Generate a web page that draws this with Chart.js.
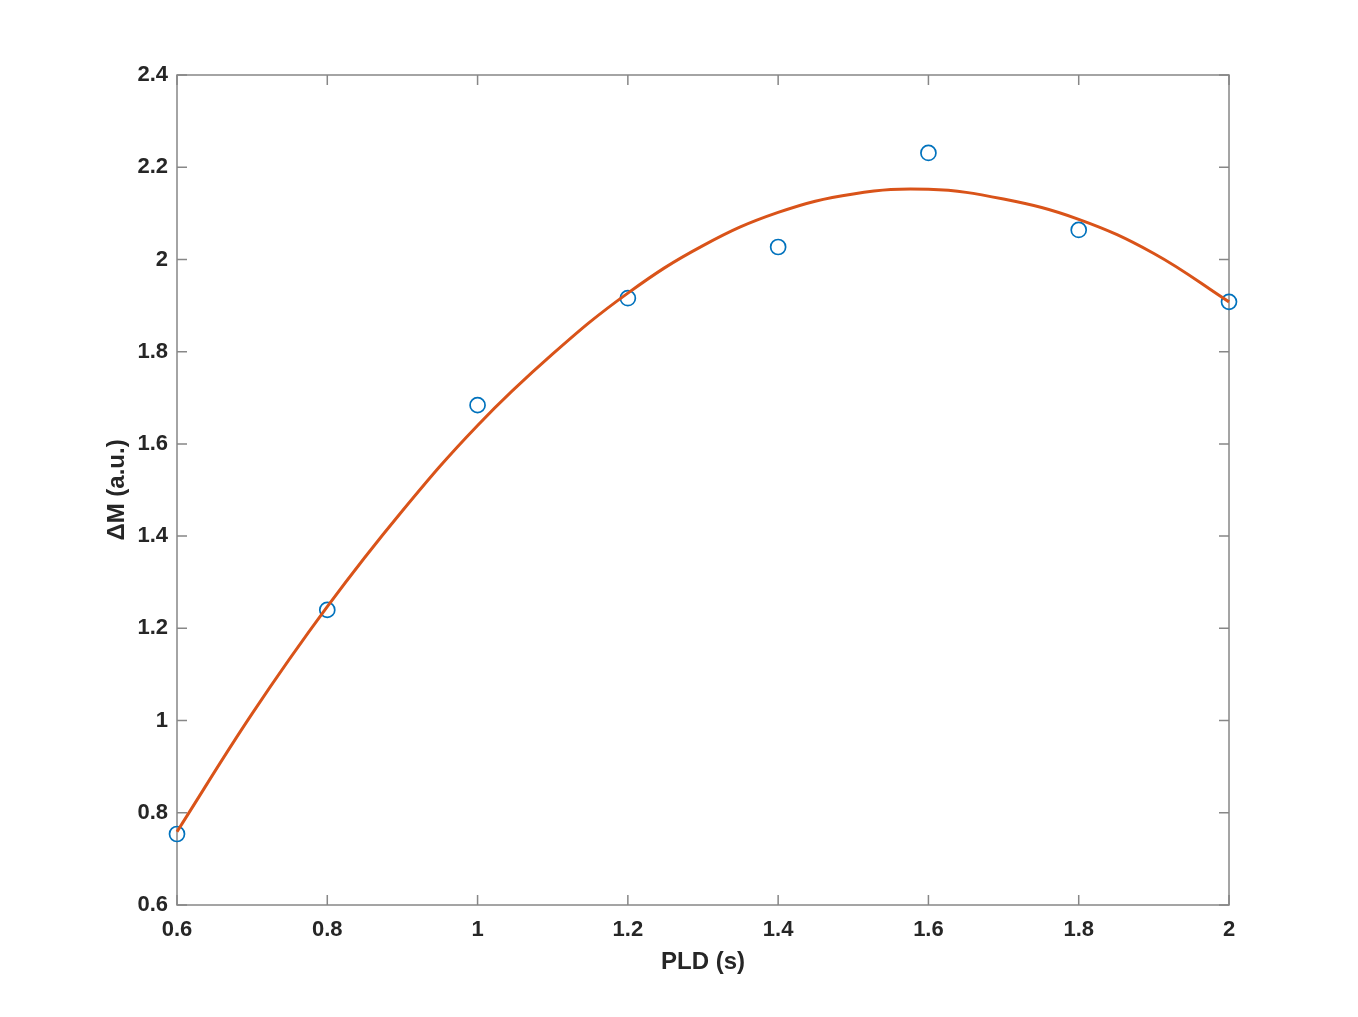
<!DOCTYPE html>
<html>
<head>
<meta charset="utf-8">
<title>PLD fit</title>
<script src="https://cdn.jsdelivr.net/npm/chart.js@4/dist/chart.umd.min.js"></script>
<style>
    html, body { margin: 0; padding: 0; background: #fff; }
    #wrap { width: 1358px; height: 1017px; }
</style>
</head>
<body>
<div id="wrap"><canvas id="fitChart"></canvas></div>
<script>
// measured points (PLD in s, deltaM in a.u.)
const pld = [0.6, 0.8, 1.0, 1.2, 1.4, 1.6, 1.8, 2.0];
const deltaM = [0.754, 1.240, 1.684, 1.916, 2.027, 2.231, 2.064, 1.908];

// fitted curve
const fitPld = [0.6, 0.7, 0.8, 0.9, 1.0, 1.1, 1.2, 1.3, 1.4, 1.5, 1.6, 1.7, 1.8, 1.9, 2.0];
const fitM = [0.759, 1.015, 1.247, 1.455, 1.640, 1.795, 1.927, 2.030, 2.102, 2.142, 2.152, 2.131, 2.087, 2.013, 1.908];

const xTicks = [0.6, 0.8, 1, 1.2, 1.4, 1.6, 1.8, 2];
const yTicks = [0.6, 0.8, 1, 1.2, 1.4, 1.6, 1.8, 2, 2.2, 2.4];

const fontFamily = 'Arial, "Liberation Sans", Helvetica, sans-serif';
const textColor = '#262626';
const boxColor = '#878787';

// matlab style labels: 1 and 2 without the trailing .0
function tickText(v) {
    return String(Number(v.toFixed(2)));
}

// box round the plot and inward tick marks, like the original
const boxPlugin = {
    id: 'boxTicks',
    beforeDatasetsDraw(chart) {
        const ctx = chart.ctx;
        const area = chart.chartArea;
        const xs = chart.scales.x;
        const ys = chart.scales.y;
        const len = 10;
        ctx.save();
        ctx.strokeStyle = boxColor;
        ctx.lineWidth = 1.5;
        ctx.strokeRect(area.left, area.top, area.right - area.left, area.bottom - area.top);
        ctx.beginPath();
        xTicks.forEach(v => {
            const px = xs.getPixelForValue(v);
            ctx.moveTo(px, area.bottom);
            ctx.lineTo(px, area.bottom - len);
            ctx.moveTo(px, area.top);
            ctx.lineTo(px, area.top + len);
        });
        yTicks.forEach(v => {
            const py = ys.getPixelForValue(v);
            ctx.moveTo(area.left, py);
            ctx.lineTo(area.left + len, py);
            ctx.moveTo(area.right, py);
            ctx.lineTo(area.right - len, py);
        });
        ctx.stroke();
        ctx.restore();
    }
};

const fitData = fitPld.map((x, i) => ({ x: x, y: fitM[i] }));
const pointData = pld.map((x, i) => ({ x: x, y: deltaM[i] }));

new Chart(document.getElementById('fitChart'), {
    type: 'scatter',
    data: {
        datasets: [{
            label: 'fit',
            data: fitData,
            showLine: true,
            borderColor: '#D95319',
            borderWidth: 3,
            pointRadius: 0,
            tension: 0.4,
            clip: false,
            order: 0
        }, {
            label: 'data',
            data: pointData,
            showLine: false,
            pointStyle: 'circle',
            pointRadius: 7.5,
            pointBorderWidth: 1.7,
            pointBorderColor: '#0072BD',
            pointBackgroundColor: 'rgba(0,0,0,0)',
            clip: false,
            order: 1
        }]
    },
    options: {
        responsive: true,
        maintainAspectRatio: false,
        animation: false,
        layout: { padding: { top: 75, right: 129, bottom: 0, left: 0 } },
        plugins: {
            legend: { display: false },
            tooltip: { enabled: false }
        },
        scales: {
            x: {
                type: 'linear',
                min: 0.6,
                max: 2,
                grid: { display: false, drawTicks: false },
                border: { display: false },
                afterBuildTicks: s => { s.ticks = xTicks.map(v => ({ value: v })); },
                afterFit: s => { s.height = 112; },
                ticks: {
                    padding: 12,
                    color: textColor,
                    font: { family: fontFamily, size: 22, weight: 'bold' },
                    maxRotation: 0,
                    callback: v => tickText(v)
                },
                title: {
                    display: true,
                    text: 'PLD (s)',
                    color: textColor,
                    font: { family: fontFamily, size: 24, weight: 'bold' },
                    padding: { top: 0, bottom: 40 }
                }
            },
            y: {
                type: 'linear',
                min: 0.6,
                max: 2.4,
                grid: { display: false, drawTicks: false },
                border: { display: false },
                afterBuildTicks: s => { s.ticks = yTicks.map(v => ({ value: v })); },
                afterFit: s => { s.width = 177; },
                ticks: {
                    padding: 9,
                    color: textColor,
                    font: { family: fontFamily, size: 22, weight: 'bold' },
                    callback: v => tickText(v)
                },
                title: {
                    display: true,
                    text: '\u0394M (a.u.)',
                    color: textColor,
                    font: { family: fontFamily, size: 24, weight: 'bold' },
                    padding: { top: 103, bottom: 0 }
                }
            }
        }
    },
    plugins: [boxPlugin]
});
</script>
</body>
</html>
